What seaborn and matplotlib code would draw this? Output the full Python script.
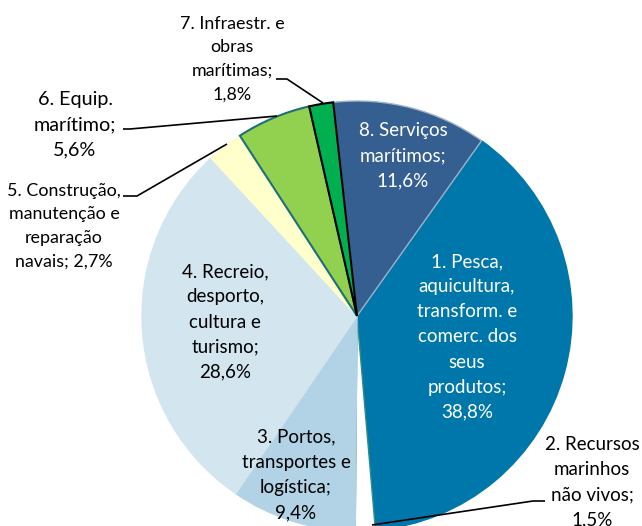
import seaborn as sns
import matplotlib.pyplot as plt

# data
labels = ['1. Pesca,\naquicultura,\ntransform. e\ncomerc. dos\nseus\nprodutos;\n38,8%',
          '2. Recursos\nmarinhos\nnão vivos;\n1,5%',
          '3. Portos,\ntransportes e\nlogística;\n9,4%',
          '4. Recreio,\ndesporto,\ncultura e\nturismo;\n28,6%',
          '5. Construção,\nmanutenção e\nreparação\nnavais; 2,7%',
          '6. Equip.\nmarítimo;\n5,6%',
          '7. Infraestr. e\nobras\nmarítimas;\n1,8%',
          '8. Serviços\nmarítimos;\n11,6%']
values = [38.8, 1.5, 9.4, 28.6, 2.7, 5.6, 1.8, 11.6]
colors = ['#0077aa', '#ffffff', '#b1d3e5', '#d3e5ef', '#ffffcc', '#92d050', '#00b050', '#365f91']
edges = ['#0077aa', '#2e8b8b', '#b1d3e5', '#d3e5ef', '#ffffcc', '#1f6f7a', '#000000', '#9fb3c8']

sns.set_theme(style="white")
plt.rcParams['font.family'] = ['Lato', 'DejaVu Sans']

fig = plt.figure(figsize=(6.42, 5.26), dpi=100)
ax = fig.add_axes([0, 0, 1, 1])
H = 526
cx, cy, r = 357, H - 316, 215

wedges, _ = ax.pie(values, colors=colors, startangle=54.6, counterclock=False,
                   center=(cx, cy), radius=r, frame=True,
                   wedgeprops=dict(linewidth=1.0))
for w, e in zip(wedges, edges):
    w.set_edgecolor(e)
wedges[6].set_linewidth(1.5)
wedges[5].set_linewidth(1.5)
wedges[6].set_zorder(3)
wedges[5].set_zorder(2)

ax.set_xlim(0, 642)
ax.set_ylim(0, H)
ax.set_aspect('equal')
ax.axis('off')

# label positions (x, y of text centre) and style
lab_pos = [(467, 337, 'white', 13.5), (592, 482, 'black', 13.5), (296, 475, 'black', 13.5),
           (225, 322, 'black', 13.5), (64, 226, 'black', 12.9), (75, 125, 'black', 14.2),
           (232, 59, 'black', 12.9), (403, 156, 'white', 13.5)]
for lab, (x, y, c, fs) in zip(labels, lab_pos):
    ax.text(x, H - y, lab, ha='center', va='center', color=c, fontsize=fs,
            linespacing=1.58)

# leader lines
leaders = [[(545, 501), (533, 501), (372, 525)],
           [(123, 196), (137, 196), (227, 144)],
           [(123, 129), (130, 129), (277, 116)],
           [(276, 79), (287, 79), (323, 103)]]
for pts in leaders:
    ax.plot([p[0] for p in pts], [H - p[1] for p in pts], color='black', lw=1.2,
            solid_capstyle='butt', zorder=5)

fig.savefig('out.png', dpi=100)
